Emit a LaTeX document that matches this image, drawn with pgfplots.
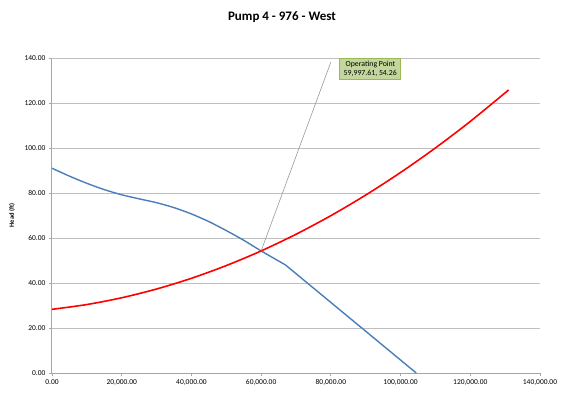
\documentclass[border=0pt]{standalone}
\usepackage{pgfplots}
\pgfplotsset{compat=1.18}
\usepackage{fontspec}
\setmainfont{Carlito}
\definecolor{gridgray}{HTML}{BFBFBF}
\definecolor{axgray}{HTML}{A6A6A6}
\definecolor{pumpblue}{HTML}{4A7EBB}
\definecolor{calloutfill}{HTML}{C3D69B}
\definecolor{calloutdraw}{HTML}{98B954}
\begin{document}
\begin{tikzpicture}
\begin{axis}[
  name=ax,
  scale only axis,
  width=488pt, height=315pt,
  xmin=0, xmax=140000, ymin=0, ymax=140,
  xtick={0,20000,...,140000},
  ytick={0,20,...,140},
  scaled x ticks=false, scaled y ticks=false,
  xticklabel style={font=\fontsize{7.5}{8}\selectfont, /pgf/number format/.cd, fixed, fixed zerofill, precision=2, 1000 sep={,}, assume math mode=true},
  yticklabel style={font=\fontsize{7.5}{8}\selectfont, /pgf/number format/.cd, fixed, fixed zerofill, precision=2, assume math mode=true},
  axis x line*=bottom, axis y line*=left,
  axis line style={axgray, line width=1pt, -},
  ymajorgrids, grid style={gridgray, line width=0.8pt},
  tick style={axgray, line width=0.8pt},
  tick align=outside, major tick length=3pt,
  ylabel={\textbf{Head (ft)}},
  ylabel style={font=\fontsize{6.5}{7}\selectfont, at={(axis description cs:-0.082,0.5)}, anchor=center, rotate=0},
  clip=false,
]
\addplot[pumpblue, line width=1.4pt, smooth, tension=0.4] coordinates {
 (0,91) (5000,87.5) (10000,84.3) (15000,81.5) (20000,79.2) (25000,77.4) (30000,75.7)
 (35000,73.5) (40000,70.7) (45000,67.3) (50000,63.3) (55000,59) (60000,54.26) (67000,48)
};
\addplot[pumpblue, line width=1.4pt] coordinates {
 (67000,48) (104500,0)
};
\addplot[red, line width=1.6pt, smooth] coordinates {
 (0,28.3) (10000,30.43) (20000,33.44) (30000,37.33) (40000,42.09) (50000,47.74)
 (60000,54.26) (70000,61.66) (80000,69.93) (90000,79.09) (100000,89.12)
 (110000,100.03) (120000,111.82) (131000,125.8)
};
\draw[gray!80, line width=0.6pt] (axis cs:59997.61,54.26) -- (axis cs:80000,138.2);
\node[fill=calloutfill, draw=calloutdraw, line width=0.6pt, inner xsep=4pt, inner ysep=3pt, align=left,
  font=\fontsize{7.8}{9}\selectfont] at (axis cs:91300,135.2)
  {\hspace*{2pt}Operating Point\\59,997.61, 54.26};
\coordinate (sw) at (rel axis cs:0,0);
\coordinate (ne) at (rel axis cs:1,1);
\coordinate (tt) at (rel axis cs:0.5,1);
\end{axis}
\path ([shift={(-52pt,-19pt)}]sw) rectangle ([shift={(25pt,58pt)}]ne);
\node[font=\bfseries\fontsize{13}{15}\selectfont] at ([shift={(-14pt,41pt)}]tt) {Pump 4 - 976 - West};
\end{tikzpicture}
\end{document}
